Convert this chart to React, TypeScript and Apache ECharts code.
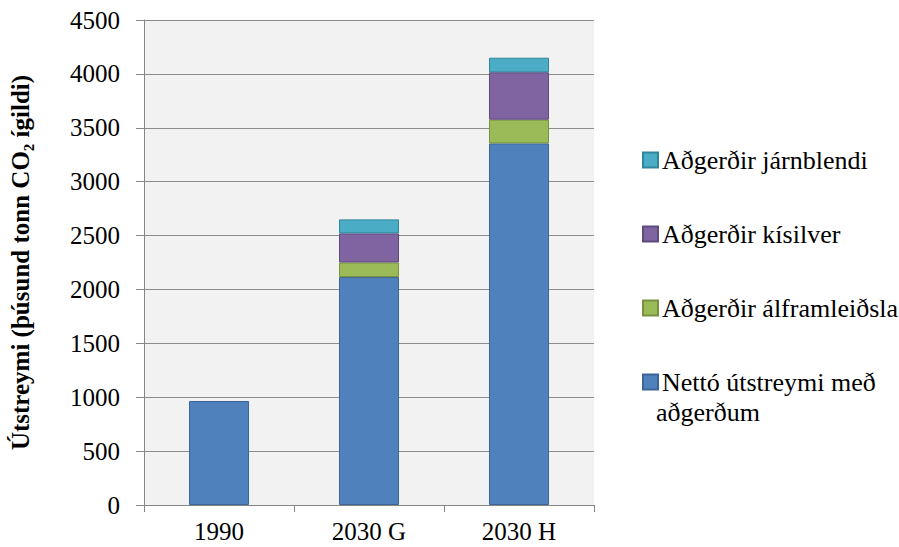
import React, { useEffect, useRef } from "react";
import * as echarts from "echarts";

const categories = ["1990", "2030 G", "2030 H"];
const netto = [965, 2115, 3355];
const alframleidsla = [null, 135, 220];
const kisilver = [null, 270, 440];
const jarnblendi = [null, 130, 135];
const yTicks = { min: 0, max: 4500, interval: 500 };

const seriesNames = [
  "Nettó útstreymi með aðgerðum",
  "Aðgerðir álframleiðsla",
  "Aðgerðir kísilver",
  "Aðgerðir járnblendi",
];

const FONT = "Liberation Serif";

export default function App() {
  const ref = useRef<HTMLDivElement>(null);
  useEffect(() => {
    document.body.style.margin = "0";
    document.body.style.overflow = "hidden";
    if (!ref.current) return;
    const chart = echarts.init(ref.current, null, { renderer: "svg" });
    const mk = (name: string, data: any[], color: string, border: string) => ({
      name,
      type: "bar",
      stack: "total",
      data,
      barWidth: "40%",
      itemStyle: { color, borderColor: border, borderWidth: 1 },
    });
    chart.setOption({
      animation: false,
      backgroundColor: "#ffffff",
      textStyle: { fontFamily: FONT },
      grid: {
        left: 139,
        right: 305,
        top: 20,
        bottom: 42,
        show: true,
        backgroundColor: "#F2F2F2",
        borderWidth: 0,
      },
      xAxis: {
        type: "category",
        data: categories,
        axisLine: { show: true, lineStyle: { color: "#868686", width: 1 } },
        axisTick: { show: true, length: 7, lineStyle: { color: "#868686" } },
        axisLabel: { color: "#000", fontSize: 25, fontFamily: FONT, margin: 14 },
      },
      yAxis: {
        type: "value",
        min: yTicks.min,
        max: yTicks.max,
        interval: yTicks.interval,
        name: "Útstreymi (þúsund tonn CO₂ ígildi)",
        nameLocation: "middle",
        nameGap: 111,
        nameTextStyle: { color: "#000", fontSize: 25, fontWeight: "bold", fontFamily: FONT },
        axisLine: { show: true, lineStyle: { color: "#868686", width: 1 } },
        axisTick: { show: true, length: 8, lineStyle: { color: "#868686" } },
        axisLabel: {
          color: "#000",
          fontSize: 25,
          fontFamily: FONT,
          margin: 24,
          formatter: (v: number) => String(v),
        },
        splitLine: { show: true, lineStyle: { color: "#8c8c8c", width: 1 } },
      },
      legend: {
        orient: "vertical",
        left: 637,
        top: 140,
        itemWidth: 15,
        itemHeight: 15,
        itemGap: 44,
        icon: "rect",
        data: [seriesNames[3], seriesNames[2], seriesNames[1], seriesNames[0]],
        formatter: (n: string) => (n === seriesNames[0] ? "Nettó útstreymi með" : n),
        textStyle: { color: "#000", fontSize: 26, fontFamily: FONT, lineHeight: 30, padding: [0, 0, 0, -1] },
        selectedMode: false,
      },
      graphic: [
        {
          type: "text",
          x: 656,
          y: 412,
          style: {
            text: "aðgerðum",
            fill: "#000",
            fontSize: 26,
            fontFamily: FONT,
            verticalAlign: "middle",
            align: "left",
          },
        },
      ],
      series: [
        mk(seriesNames[0], netto, "#4F81BD", "#3c6597"),
        mk(seriesNames[1], alframleidsla, "#9BBB59", "#76923c"),
        mk(seriesNames[2], kisilver, "#8064A2", "#5f4a7c"),
        mk(seriesNames[3], jarnblendi, "#4BACC6", "#31859c"),
      ],
    });
    return () => chart.dispose();
  }, []);
  return <div ref={ref} style={{ width: 899, height: 547 }} />;
}
